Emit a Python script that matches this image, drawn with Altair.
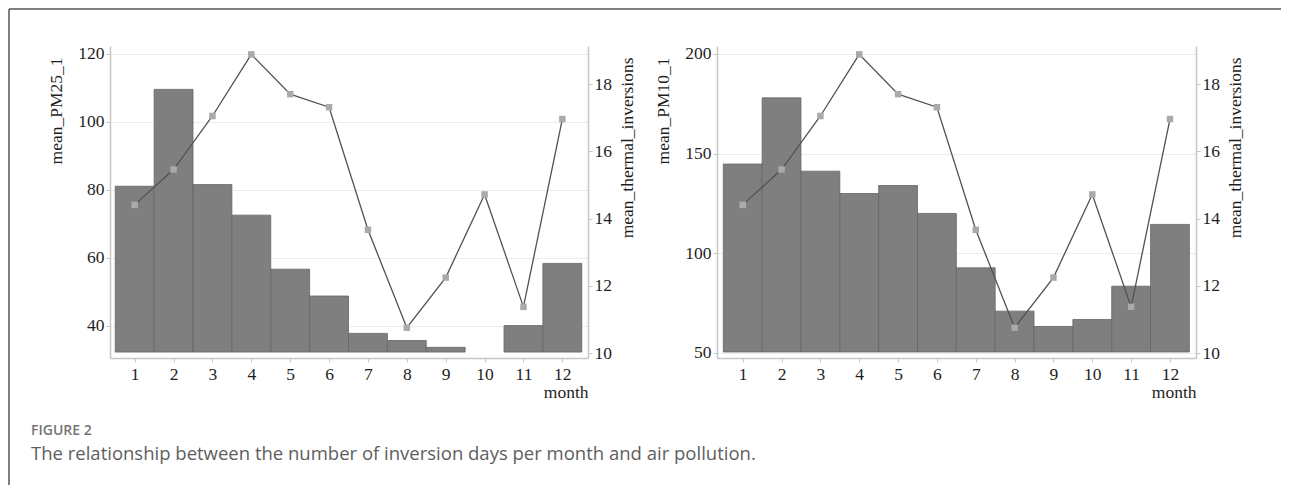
import altair as alt
import pandas as pd

# ---- data ----
months = list(range(1, 13))
pm25 = [81.0, 109.5, 81.5, 72.5, 56.6, 48.7, 37.7, 35.6, 33.6, None, 40.0, 58.3]
pm10 = [144.8, 178.0, 141.2, 130.0, 134.0, 120.0, 92.7, 71.0, 63.3, 66.8, 83.5, 114.5]
inversions = [14.41, 15.46, 17.05, 18.88, 17.70, 17.31, 13.67, 10.76, 12.25, 14.72, 11.38, 16.96]

pm25_ticks = [40, 60, 80, 100, 120]
pm10_ticks = [50, 100, 150, 200]
inv_ticks = [10, 12, 14, 16, 18]

fig_label = "FIGURE 2"
caption = "The relationship between the number of inversion days per month and air pollution."

df = pd.DataFrame({"month": months, "pm25": pm25, "pm10": pm10, "inv": inversions})
one = pd.DataFrame({"k": [0]})

SERIF = "Liberation Serif"
AX = dict(
    domainColor="#c6c6c6", domainWidth=1.5, tickColor="#c6c6c6", tickSize=4, tickWidth=1,
    labelFont=SERIF, labelFontSize=17.5, labelColor="#1e1e1e",
    titleFont=SERIF, titleFontSize=17.5, titleColor="#1e1e1e", titleFontWeight="normal",
)


def panel(field, title, ticks, ydom, base, xdom, width, extras=()):
    xsc = alt.Scale(domain=xdom, nice=False, zero=False)
    xax = alt.Axis(values=months, title="month", titleAnchor="end", titleAlign="right",
                   grid=False, labelPadding=3, titlePadding=1, labelFlush=False, **AX)
    bars = (
        alt.Chart(df)
        .transform_filter(f"isValid(datum.{field})")
        .transform_calculate(lo="datum.month - 0.5", hi="datum.month + 0.5")
        .mark_bar(color="#7f7f7f", stroke="#666666", strokeWidth=0.8)
        .encode(
            x=alt.X("lo:Q", scale=xsc, axis=xax),
            x2="hi:Q",
            y=alt.Y(f"{field}:Q",
                    scale=alt.Scale(domain=ydom, nice=False, zero=False),
                    axis=alt.Axis(values=ticks, title=title, titleAngle=270, titleAlign="right",
                                  titleY=11, titlePadding=12, grid=True, gridColor="#ededed",
                                  gridWidth=1, labelPadding=2, **AX)),
            y2=alt.datum(base),
        )
    )
    line = (
        alt.Chart(df)
        .mark_line(color="#525252", strokeWidth=1.3,
                   point=alt.OverlayMarkDef(shape="square", size=42, color="#aaaaaa",
                                            filled=True, opacity=1))
        .encode(
            x=alt.X("month:Q", scale=xsc),
            y=alt.Y("inv:Q",
                    scale=alt.Scale(domain=[9.86, 19.13], nice=False, zero=False),
                    axis=alt.Axis(orient="right", values=inv_ticks, title="mean_thermal_inversions",
                                  titleAngle=270, titleAlign="right", titleBaseline="top",
                                  titleY=11, titlePadding=7, grid=False, labelPadding=2, **AX)),
        )
    )
    return alt.layer(bars, line, *extras).resolve_scale(y="independent").properties(
        width=width, height=312)


frame_v = alt.Chart(one).mark_rule(color="#555555", strokeWidth=1.5).encode(
    x=alt.value(-101), y=alt.value(-37), y2=alt.value(439))
frame_h = alt.Chart(one).mark_rule(color="#555555", strokeWidth=1.5).encode(
    x=alt.value(-101), x2=alt.value(1171), y=alt.value(-37))
fig_text = alt.Chart(one).mark_text(align="left", baseline="middle", font="Open Sans",
                                    fontSize=14, fontWeight=600, color="#747474").encode(
    x=alt.value(-79), y=alt.value(385), text=alt.value(fig_label))
cap_text = alt.Chart(one).mark_text(align="left", baseline="middle", font="Open Sans",
                                    fontSize=18.5, color="#5e5e5e").encode(
    x=alt.value(-79), y=alt.value(408), text=alt.value(caption))

left = panel("pm25", "mean_PM25_1", pm25_ticks, [30.46, 122.27], 32.2, [0.365, 12.66], 478,
             extras=(frame_v, frame_h, fig_text, cap_text))
right = panel("pm10", "mean_PM10_1", pm10_ticks, [47.49, 204.0], 50.5, [0.338, 12.67], 479)

chart = (
    alt.hconcat(left, right, spacing=129, bounds="flush")
    .properties(padding=0, background="white")
    .configure_view(stroke=None)
)

chart.save("out.html", embed_options={"renderer": "svg", "actions": False})
